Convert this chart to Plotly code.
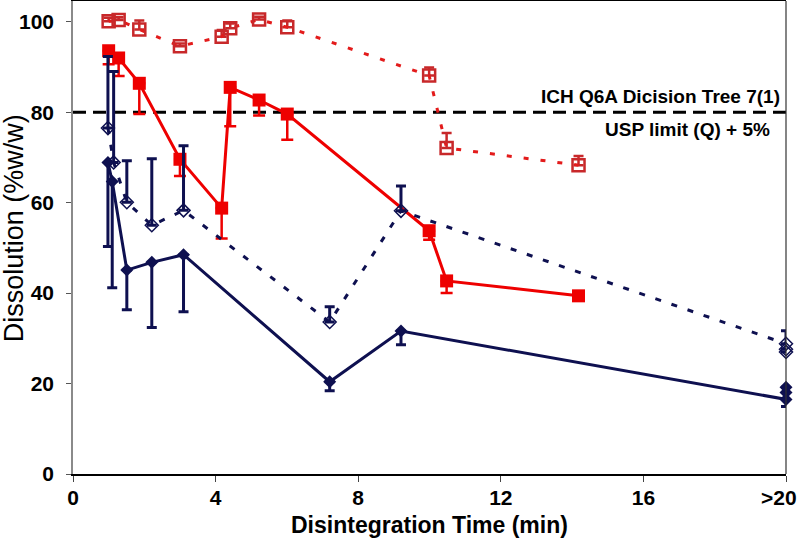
import plotly.graph_objects as go

# ---- data ----
red_x = [1.00, 1.28, 1.86, 3.00, 4.17, 4.41, 5.22, 6.01, 9.99, 10.48, 14.18]
red_solid = [93.6, 92.0, 86.4, 69.6, 58.8, 85.5, 82.7, 79.6, 53.8, 42.7, 39.4]
red_solid_err = [3.0, 4.0, 6.8, 3.7, 6.7, 8.6, 3.4, 5.7, 2.0, 2.7, 0.0]
red_dotted = [100.1, 100.4, 98.3, 94.6, 96.7, 98.6, 100.5, 98.8, 88.1, 72.1, 68.3]
red_dotted_err = [0.8, 0.6, 2.0, 0.6, 1.5, 1.0, 0.6, 1.5, 1.8, 3.3, 2.0]

blue_solid_x = [0.98, 1.10, 1.51, 2.21, 3.10, 7.20, 9.20, 20, 20, 20]
blue_solid = [68.9, 64.7, 45.1, 46.8, 48.5, 20.4, 31.6, 16.5, 18.0, 19.2]
blue_solid_err = [18.6, 23.5, 8.8, 14.4, 12.6, 2.0, 3.0, 1.6, 0.0, 0.0]
blue_dotted_x = [0.98, 1.14, 1.51, 2.21, 3.10, 7.20, 9.20, 20, 20, 20]
blue_dotted = [76.5, 68.9, 60.1, 55.0, 58.3, 33.6, 58.2, 28.8, 27.6, 27.0]
blue_dotted_err = [15.8, 20.1, 9.2, 14.7, 14.3, 3.4, 5.5, 2.9, 0.0, 0.0]

limit_x = [0, 20]
limit_y = [80, 80]

x_tickvals = [0, 4, 8, 12, 16, 20]
x_ticktext = ["0", "4", "8", "12", "16", ""]
last_tick_label = ">20"
y_tickvals = [0, 20, 40, 60, 80, 100]

RED = "#EE0000"
RED_D = "#E31B1B"
RED_MK = "#C8282A"
NAVY = "#0E1050"
FONT = "Liberation Sans, Arial, sans-serif"
TICK_SIZE = 21

fig = go.Figure()

fig.add_trace(go.Scatter(
    x=limit_x, y=limit_y, mode="lines",
    line=dict(color="black", width=3, dash="13px,7px"),
    hoverinfo="skip", showlegend=False))

fig.add_trace(go.Scatter(
    x=red_x, y=red_dotted, mode="lines+markers",
    line=dict(color=RED_D, width=3, dash="5px,12px"),
    marker=dict(symbol="square-open", size=12, color=RED_MK, line=dict(width=2.5)),
    error_y=dict(type="data", symmetric=False, array=red_dotted_err,
                 arrayminus=[0] * len(red_dotted_err), color=RED_MK, thickness=2.5, width=5),
    showlegend=False))

fig.add_trace(go.Scatter(
    x=red_x, y=red_solid, mode="lines+markers",
    line=dict(color=RED, width=3),
    marker=dict(symbol="square", size=13, color=RED),
    error_y=dict(type="data", symmetric=False, array=[0] * len(red_solid_err),
                 arrayminus=red_solid_err, color=RED, thickness=2.5, width=6),
    showlegend=False))

fig.add_trace(go.Scatter(
    x=blue_dotted_x, y=blue_dotted, mode="lines+markers",
    line=dict(color=NAVY, width=3, dash="6px,11px"),
    marker=dict(symbol="diamond-open", size=10, color=NAVY, line=dict(width=1.5)),
    error_y=dict(type="data", symmetric=False, array=blue_dotted_err,
                 arrayminus=[0] * len(blue_dotted_err), color=NAVY, thickness=3, width=5),
    cliponaxis=False, showlegend=False))

fig.add_trace(go.Scatter(
    x=blue_solid_x, y=blue_solid, mode="lines+markers",
    line=dict(color=NAVY, width=3),
    marker=dict(symbol="diamond", size=10, color=NAVY),
    error_y=dict(type="data", symmetric=False, array=[0] * len(blue_solid_err),
                 arrayminus=blue_solid_err, color=NAVY, thickness=3, width=5),
    cliponaxis=False, showlegend=False))

fig.update_layout(
    width=799, height=542,
    margin=dict(l=73, r=13, t=1, b=68),
    paper_bgcolor="white", plot_bgcolor="white",
    font=dict(family=FONT, color="black"),
    xaxis=dict(range=[0, 20], tickvals=x_tickvals, ticktext=x_ticktext,
               showgrid=False, zeroline=False, automargin=False,
               showline=True, linecolor="black", linewidth=1.5, mirror=True,
               ticks="outside", ticklen=6, tickcolor="#444", tickwidth=1,
               ticklabelstandoff=-2,
               tickfont=dict(family=FONT, size=TICK_SIZE, weight="bold", color="black")),
    yaxis=dict(range=[0, 104.6], tickvals=y_tickvals,
               showgrid=False, zeroline=False, automargin=False,
               ticklabelstandoff=8,
               showline=True, linecolor="#8a8a8a", linewidth=1.5, mirror=False,
               ticks="outside", ticklen=5, tickcolor="#555", tickwidth=1,
               tickfont=dict(family=FONT, size=TICK_SIZE, weight="bold", color="black")),
    shapes=[
        dict(type="line", xref="paper", yref="paper", x0=1, x1=1, y0=0, y1=1,
             line=dict(color="#333", width=1.2)),
    ],
    annotations=[
        dict(x=20, y=0, xref="x", yref="paper", text=last_tick_label,
             showarrow=False, xanchor="center", yanchor="middle", xshift=-7, yshift=-23,
             font=dict(family=FONT, size=TICK_SIZE, weight="bold", color="black")),
        dict(x=19.9, y=83.4, xref="x", yref="y", text="ICH Q6A Dicision Tree 7(1)",
             showarrow=False, xanchor="right", yanchor="middle",
             font=dict(family=FONT, size=19, weight="bold", color="black")),
        dict(x=19.6, y=76.1, xref="x", yref="y", text="USP limit (Q) + 5%",
             showarrow=False, xanchor="right", yanchor="middle",
             font=dict(family=FONT, size=19, weight="bold", color="black")),
        dict(x=0.5, y=-0.108, xref="paper", yref="paper", text="Disintegration Time (min)",
             showarrow=False, xanchor="center", yanchor="middle",
             font=dict(family=FONT, size=23, weight="bold", color="black")),
        dict(x=-0.0823, y=0.52, xref="paper", yref="paper", text="Dissolution (%w/w)",
             showarrow=False, xanchor="center", yanchor="middle", textangle=-90,
             font=dict(family=FONT, size=27, color="black")),
    ],
)

fig.write_html("out.html", config={"displayModeBar": False},
               post_script="document.body.style.margin='0';document.body.style.overflow='hidden';")
